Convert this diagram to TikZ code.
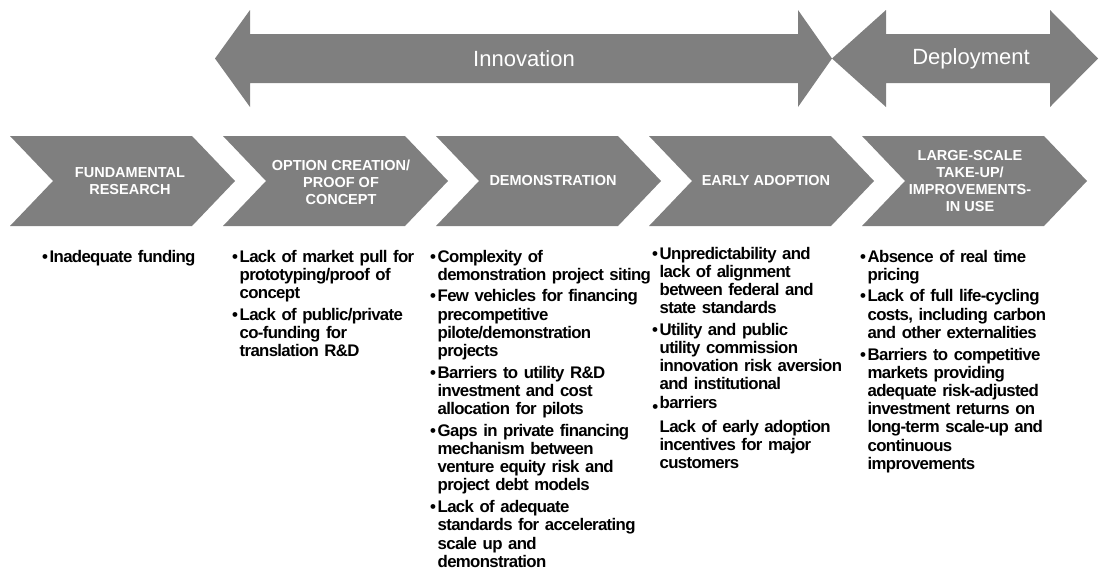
\documentclass[tikz,border=0pt]{standalone}
\usepackage{fontspec}
\setmainfont{Liberation Sans}
\newfontfamily\barrierfont{Liberation Sans}[LetterSpace=-4,WordSpace=0.85]
\definecolor{stagegray}{HTML}{7F7F7F}

% one bullet paragraph with hanging indent
\newcommand{\barrier}[1]{\setlength{\parskip}{3.5pt}\noindent\hangindent=7.5pt\hangafter=1\hbox to 7.5pt{\textbullet\hfil}#1\par}

\begin{document}
\begin{tikzpicture}[x=1pt, y=-1pt,
phase/.style={fill=stagegray},
stage/.style={fill=stagegray},
phaselabel/.style={text=white, anchor=base, inner sep=0pt, font=\fontsize{22}{24}\selectfont},
stagelabel/.style={text=white, align=center, inner sep=0pt, font=\fontsize{14.5}{17}\selectfont\bfseries},
barrierlist/.style={anchor=base west, inner sep=0pt, text width=230pt, align=left, font=\fontsize{16.8}{18.2}\selectfont\barrierfont\bfseries},
]
\useasboundingbox (0,0) rectangle (1099,581);

%Phase arrows
\fill[phase] (215,58.5) -- (250,10) -- (250,34) -- (798,34) -- (798,10) -- (832,58.5) -- (798,107) -- (798,83) -- (250,83) -- (250,107) -- cycle;
\fill[phase] (832,58.5) -- (886,10) -- (886,34) -- (1050,34) -- (1050,10) -- (1098,58.5) -- (1050,107) -- (1050,83) -- (886,83) -- (886,107) -- cycle;
\node[phaselabel] (innovation) at (524,66) {Innovation};
\node[phaselabel] (deployment) at (971,64) {Deployment};

%Stages
\foreach \x in {10,223,436,649,862}
  \fill[stage] (\x,136) -- ++(182,0) -- ++(43,45) -- ++(-43,45) -- ++(-182,0) -- ++(43,-45) -- cycle;

\node[stagelabel] (fundamental) at (130,181) {FUNDAMENTAL\\RESEARCH};
\node[stagelabel] (option)      at (341,182) {OPTION CREATION/\\PROOF OF\\CONCEPT};
\node[stagelabel] (demo)        at (553,181) {DEMONSTRATION};
\node[stagelabel] (early)       at (766,181) {EARLY ADOPTION};
\node[stagelabel] (largescale)  at (970,181) {LARGE-SCALE\\TAKE-UP/\\IMPROVEMENTS-\\IN USE};

%Barriers
\node[barrierlist] (fundbarriers) at (42,262) {\barrier{Inadequate funding}};
\node[barrierlist] (optionbarriers) at (232,262) {\barrier{Lack of market pull for\newline prototyping/proof of\newline concept}\barrier{Lack of public/private\newline co-funding for\newline translation R\&D}};
\node[barrierlist] (demobarriers) at (430,262) {\barrier{Complexity of\newline demonstration project siting}\barrier{Few vehicles for financing\newline precompetitive\newline pilote/demonstration\newline projects}\barrier{Barriers to utility R\&D\newline investment and cost\newline allocation for pilots}\barrier{Gaps in private financing\newline mechanism between\newline venture equity risk and\newline project debt models}\barrier{Lack of adequate\newline standards for accelerating\newline scale up and\newline demonstration}};
\node[barrierlist] (earlybarriers) at (652,259) {\barrier{Unpredictability and\newline lack of alignment\newline between federal and\newline state standards}\barrier{Utility and public\newline utility commission\newline innovation risk aversion\newline and institutional\newline \llap{\raisebox{-4.5pt}{\textbullet}\hspace{1.5pt}}barriers}\vspace{2.5pt}\noindent\hangindent=7.5pt\hangafter=0 Lack of early adoption\newline incentives for major\newline customers\par};
\node[barrierlist] (largebarriers) at (860,262) {\barrier{Absence of real time\newline pricing}\barrier{Lack of full life-cycling\newline costs, including carbon\newline and other externalities}\barrier{Barriers to competitive\newline markets providing\newline adequate risk-adjusted\newline investment returns on\newline long-term scale-up and\newline continuous\newline improvements}};

\end{tikzpicture}
\end{document}
